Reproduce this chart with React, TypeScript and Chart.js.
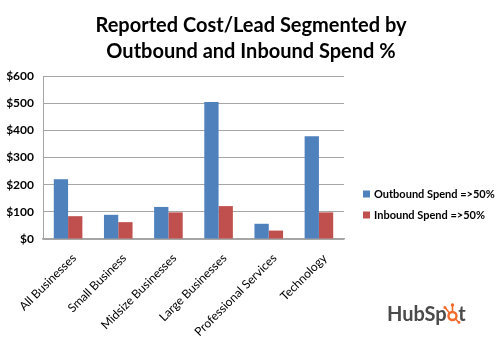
import React, { useEffect, useRef } from 'react';
import { Chart, registerables } from 'chart.js';

Chart.register(...registerables);

const categories = [
  'All Businesses',
  'Small Business',
  'Midsize Businesses',
  'Large Businesses',
  'Professional Services',
  'Technology',
];
const outboundValues = [220, 89, 118, 504, 56, 378];
const inboundValues = [84, 62, 98, 121, 31, 98];
const seriesNames = ['Outbound Spend =>50%', 'Inbound Spend =>50%'];
const seriesColors = ['#4F81BD', '#C0504D'];
const titleLines = ['Reported Cost/Lead Segmented by', 'Outbound and Inbound Spend %'];
const yMin = 0;
const yMax = 600;
const yStep = 100;

const FONT = 'Lato, "Open Sans", "DejaVu Sans", sans-serif';

const decorPlugin = {
  id: 'decor',
  afterDraw(chart: any) {
    const ctx = chart.ctx as CanvasRenderingContext2D;
    ctx.save();
    // Title
    ctx.fillStyle = '#000';
    ctx.font = `bold 20px ${FONT}`;
    ctx.textAlign = 'center';
    ctx.textBaseline = 'alphabetic';
    titleLines.forEach((line, i) => ctx.fillText(line, 251, 32 + i * 26));

    // Legend
    ctx.textAlign = 'left';
    ctx.textBaseline = 'middle';
    ctx.font = `bold 11px ${FONT}`;
    seriesNames.forEach((name, i) => {
      const y = 194 + i * 21;
      ctx.fillStyle = seriesColors[i];
      ctx.fillRect(363, y - 3.5, 7, 7);
      ctx.fillStyle = '#000';
      ctx.fillText(name, 374, y + 0.5);
    });

    // HubSpot logo text
    ctx.textBaseline = 'alphabetic';
    ctx.font = `bold 20px ${FONT}`;
    const gray = '#4a4a4a';
    const orange = '#F26B2A';
    let x = 387;
    const base = 321;
    ctx.fillStyle = gray;
    ctx.fillText('HubSp', x, base);
    x += ctx.measureText('HubSp').width;
    const oW = ctx.measureText('o').width;
    const cx = x + oW / 2;
    const cy = base - 5;
    ctx.strokeStyle = orange;
    ctx.fillStyle = orange;
    ctx.lineWidth = 2.4;
    ctx.beginPath();
    ctx.arc(cx, cy, 4, 0, Math.PI * 2);
    ctx.stroke();
    ctx.lineWidth = 1.6;
    ctx.beginPath();
    ctx.moveTo(cx, cy - 4);
    ctx.lineTo(cx, cy - 10);
    ctx.moveTo(cx - 3, cy - 3);
    ctx.lineTo(cx - 7, cy - 8);
    ctx.moveTo(cx + 3, cy + 3);
    ctx.lineTo(cx + 6, cy + 6);
    ctx.stroke();
    ctx.beginPath();
    ctx.arc(cx, cy - 11, 1.8, 0, Math.PI * 2);
    ctx.arc(cx - 7.5, cy - 8.5, 1.6, 0, Math.PI * 2);
    ctx.fill();
    ctx.beginPath();
    ctx.arc(cx + 6.5, cy + 6.5, 1.4, 0, Math.PI * 2);
    ctx.fill();
    x += oW;
    ctx.fillStyle = gray;
    ctx.fillText('t', x, base);
    ctx.restore();
  },
};

export default function App() {
  const canvasRef = useRef<HTMLCanvasElement | null>(null);

  useEffect(() => {
    document.body.style.margin = '0';
    const canvas = canvasRef.current;
    if (!canvas) return;
    const chart = new Chart(canvas, {
      type: 'bar',
      data: {
        labels: categories,
        datasets: [
          {
            label: seriesNames[0],
            data: outboundValues,
            backgroundColor: seriesColors[0],
            borderWidth: 0,
          },
          {
            label: seriesNames[1],
            data: inboundValues,
            backgroundColor: seriesColors[1],
            borderWidth: 0,
          },
        ],
      },
      options: {
        responsive: false,
        animation: false,
        devicePixelRatio: 1,
        layout: { padding: { top: 76, left: 0, right: 157, bottom: 0 } },
        datasets: {
          bar: { categoryPercentage: 0.57, barPercentage: 1.0 },
        },
        plugins: {
          legend: { display: false },
          title: { display: false },
          tooltip: { enabled: false },
        },
        scales: {
          x: {
            grid: { display: false, drawTicks: false },
            border: { color: '#a6a6a6', width: 1.5 },
            ticks: {
              autoSkip: false,
              minRotation: 45,
              maxRotation: 45,
              color: '#000',
              padding: 12,
              labelOffset: 6,
              font: { family: FONT, size: 12 },
            },
            afterFit: (s: any) => {
              s.height = 112;
            },
          },
          y: {
            min: yMin,
            max: yMax,
            ticks: {
              stepSize: yStep,
              color: '#000',
              padding: 9,
              font: { family: FONT, size: 12, weight: 'bold' },
              callback: (v: any) => '$' + v,
            },
            grid: { color: '#a6a6a6', drawTicks: false },
            border: { color: '#a6a6a6' },
            afterFit: (s: any) => {
              s.width = 43;
            },
          },
        },
      },
      plugins: [decorPlugin],
    });
    return () => chart.destroy();
  }, []);

  return (
    <div style={{ width: 501, height: 351, background: '#fff' }}>
      <canvas ref={canvasRef} width={501} height={351} style={{ display: 'block' }} />
    </div>
  );
}
